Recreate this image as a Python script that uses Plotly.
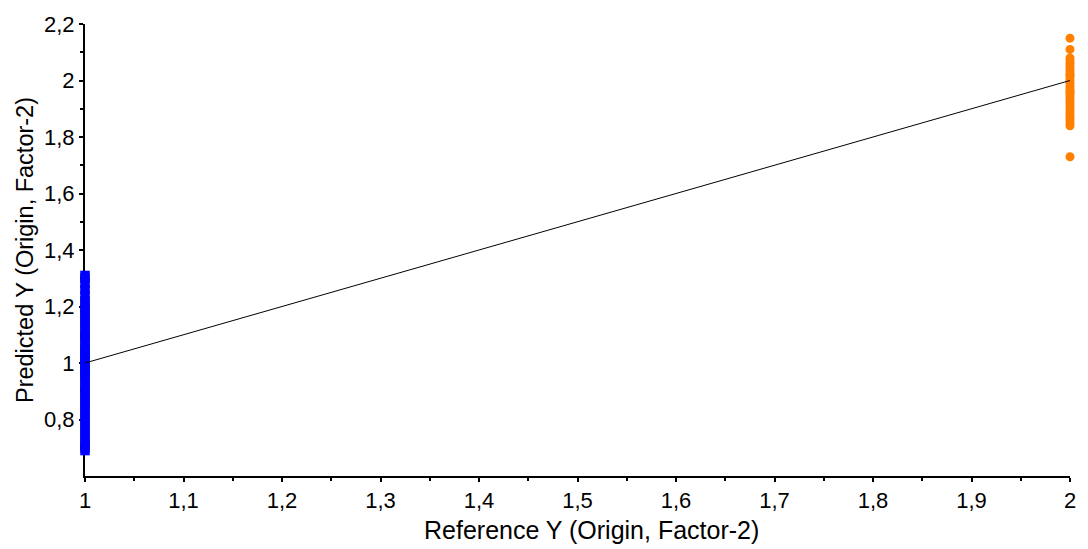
import plotly.graph_objects as go

# Reference values (group 1 and group 2) and their predicted values
ref_group1 = [1.0] * 48
pred_group1 = [0.69, 0.70, 0.71, 0.72, 0.74, 0.75, 0.77, 0.78, 0.80, 0.81,
               0.83, 0.84, 0.86, 0.87, 0.88, 0.90, 0.91, 0.92, 0.94, 0.95,
               0.96, 0.97, 0.98, 0.99, 1.00, 1.01, 1.02, 1.03, 1.04, 1.05,
               1.06, 1.08, 1.09, 1.10, 1.11, 1.13, 1.14, 1.15, 1.17, 1.18,
               1.19, 1.21, 1.22, 1.24, 1.26, 1.28, 1.30, 1.31]

ref_group2 = [2.0] * 30
pred_group2 = [2.15, 2.11, 2.08, 2.07, 2.06, 2.05, 2.04, 2.03, 2.02, 2.01,
               2.00, 1.99, 1.98, 1.97, 1.96, 1.95, 1.94, 1.93, 1.92, 1.91,
               1.90, 1.89, 1.88, 1.87, 1.86, 1.85, 1.84, 1.96, 2.02, 1.73]

# Ideal fit line y = x
fit_x = [1, 2]
fit_y = [1, 2]

# Axis tick positions
x_ticks = [1, 1.1, 1.2, 1.3, 1.4, 1.5, 1.6, 1.7, 1.8, 1.9, 2]
x_minor = [1.05, 1.15, 1.25, 1.35, 1.45, 1.55, 1.65, 1.75, 1.85, 1.95]
y_ticks = [0.8, 1, 1.2, 1.4, 1.6, 1.8, 2, 2.2]
y_minor = [0.7, 0.9, 1.1, 1.3, 1.5, 1.7, 1.9, 2.1]

fig = go.Figure()
fig.add_trace(go.Scatter(
    x=ref_group1, y=pred_group1, mode="markers",
    marker=dict(symbol="square", size=9.5, color="#0000ff", line=dict(width=0)),
    cliponaxis=False, showlegend=False,
))
fig.add_trace(go.Scatter(
    x=ref_group2, y=pred_group2, mode="markers",
    marker=dict(symbol="circle", size=9, color="#ff7f00", line=dict(width=0)),
    cliponaxis=False, showlegend=False,
))
fig.add_trace(go.Scatter(
    x=fit_x, y=fit_y, mode="lines",
    line=dict(color="black", width=1),
    cliponaxis=False, showlegend=False,
))

family = "Liberation Sans, Arial, sans-serif"
tick_font = dict(family=family, size=22, color="black")
x_title_font = dict(family=family, size=25, color="black")
y_title_font = dict(family=family, size=23.5, color="black")

fig.update_layout(
    width=1088, height=549,
    margin=dict(l=85, r=15, t=20, b=73),
    plot_bgcolor="white", paper_bgcolor="white",
    separators=", ",
    font=tick_font,
    annotations=[dict(
        text="Reference Y (Origin, Factor-2)", font=x_title_font,
        xref="paper", yref="paper", x=0.514, y=-0.119,
        xanchor="center", yanchor="middle", showarrow=False,
    )],
)
fig.update_xaxes(
    range=[1, 2], tickmode="array", tickvals=x_ticks,
    showgrid=False, zeroline=False, layer="below traces",
    showline=True, linecolor="black", linewidth=2,
    ticks="outside", ticklen=4, tickwidth=2, tickcolor="black",
    minor=dict(tickmode="array", tickvals=x_minor, ticks="outside",
               ticklen=3, tickwidth=2, tickcolor="black", showgrid=False),
    tickfont=tick_font,
)
fig.update_yaxes(
    range=[0.6, 2.2], tickmode="array", tickvals=y_ticks,
    showgrid=False, zeroline=False, layer="below traces",
    showline=True, linecolor="black", linewidth=2,
    ticks="outside", ticklen=4, tickwidth=2, tickcolor="black",
    minor=dict(tickmode="array", tickvals=y_minor, ticks="outside",
               ticklen=3, tickwidth=2, tickcolor="black", showgrid=False),
    title=dict(text="Predicted Y (Origin, Factor-2)", font=y_title_font, standoff=4),
    tickfont=tick_font,
)

fig.write_html("out.html")
